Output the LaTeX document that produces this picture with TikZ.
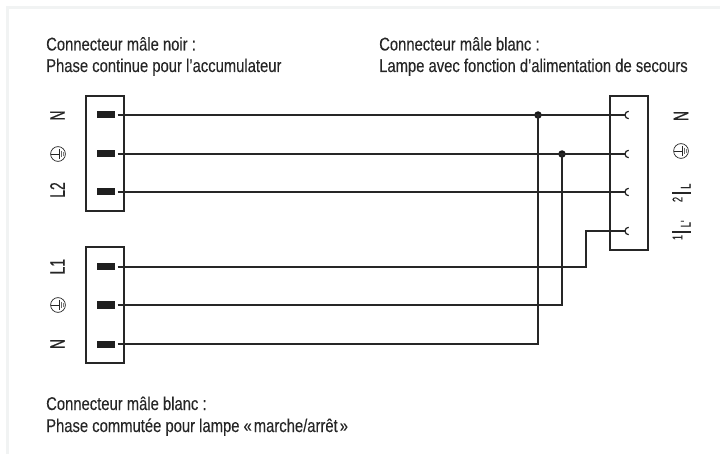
\documentclass[tikz,border=0pt]{standalone}
\usepackage{fontspec}
\setmainfont[FakeStretch=0.8,FakeBold=0.15]{Liberation Sans}
\newfontfamily\pinfont[FakeStretch=0.66,FakeBold=0.4]{Liberation Sans}
\definecolor{inkdark}{HTML}{262626}
\definecolor{framegray}{HTML}{F1F3F3}
\tikzset{
  wire/.style={line width=1.25pt,inkdark},
  housing/.style={draw=inkdark,line width=1.25pt,minimum width=38,minimum height=115,inner sep=0},
  blade/.style={fill=black!88,minimum width=18.5,minimum height=7,inner sep=0,outer sep=2.3},
  caption/.style={anchor=base west,inner sep=0,inkdark,font=\fontsize{18.5}{18.5}\selectfont},
  pinlabel/.style={rotate=90,inkdark,inner sep=0,font=\pinfont\fontsize{21}{21}\selectfont},
  pinsmall/.style={rotate=90,inkdark,inner sep=0,font=\pinfont\fontsize{14}{14}\selectfont},
  joint/.style={circle,fill=black!90,minimum size=7.5,inner sep=0},
  pics/earthsym/.style={code={
    \draw[inkdark,line width=.7pt] (0,0) circle[radius=7.4];
    \draw[inkdark,line width=.8pt] (-7.4,0) -- (1.6,0);
    \draw[inkdark,line width=.9pt] (1.6,-5) -- (1.6,5);
    \draw[inkdark!70,line width=.8pt] (3.4,-3.4) -- (3.4,3.4);
    \draw[inkdark!60,line width=.8pt] (5.2,-1.8) -- (5.2,1.8);
  }}
}
\begin{document}
\begin{tikzpicture}[x=1pt,y=-1pt]
  \useasboundingbox (0,0) rectangle (720,454);
  \draw[framegray,line width=3pt] (7,454) -- (7,7.5) -- (720,7.5);
  % captions
  \node[caption] (capa) at (46,50.5) {Connecteur mâle noir :};
  \node[caption] (capb) at (46,72) {Phase continue pour l'accumulateur};
  \node[caption] (capc) at (379,50.5) {Connecteur mâle blanc :};
  \node[caption] (capd) at (379,72) {Lampe avec fonction d'alimentation de secours};
  \node[caption] (cape) at (46,410) {Connecteur mâle blanc :};
  \node[caption] (capf) at (46,432) {Phase commutée pour lampe «\hspace{2pt}marche/arrêt\hspace{2pt}»};
  % housings
  \node[housing] (plugA) at (105,153.5) {};
  \node[housing,minimum height=116] (plugB) at (105,305) {};
  \node[housing,minimum height=154] (lamp) at (629,173) {};
  % blades
  \node[blade] (a1) at (106,115) {};
  \node[blade] (a2) at (106,154) {};
  \node[blade] (a3) at (106,192) {};
  \node[blade] (b1) at (106,267) {};
  \node[blade] (b2) at (106,305) {};
  \node[blade] (b3) at (106,344) {};
  % sockets
  \coordinate (s1) at (625,115);
  \coordinate (s2) at (625,154);
  \coordinate (s3) at (625,192);
  \coordinate (s4) at (625,231);
  \foreach \s in {s1,s2,s3,s4}
    \draw[wire] ([shift={(3.7,3.7)}]\s) arc[start angle=90,end angle=270,radius=3.7];
  % junctions
  \node[joint] (j1) at (538,115) {};
  \node[joint] (j2) at (562,154) {};
  \coordinate (k) at (586,267);
  % wiring
  \draw[wire] (a1.east) -- (s1);
  \draw[wire] (a2.east) -- (s2);
  \draw[wire] (a3.east) -- (s3);
  \draw[wire] (b1.east) -- (k) |- (s4);
  \draw[wire] (b2.east) -| (j2.center);
  \draw[wire] (b3.east) -| (j1.center);
  % left labels
  \node[pinlabel] (la) at (57.5,115.5) {N};
  \pic at (58,154) {earthsym};
  \node[pinlabel] (lb) at (57.5,190) {L2};
  \node[pinlabel] (lc) at (57.5,266.7) {L1};
  \pic at (58,305) {earthsym};
  \node[pinlabel] (ld) at (57.5,344) {N};
  % right labels
  \node[pinlabel] (ra) at (681,116) {N};
  \pic at (681,151) {earthsym};
  \node[pinsmall] (rb) at (677.5,199.5) {2};
  \draw[wire] (672,193) -- (691,193);
  \node[pinsmall,anchor=base west] (rbl) at (690.5,189) {L};
  \node[pinsmall] (rc) at (677.5,237.5) {1};
  \draw[wire] (672,232) -- (691,232);
  \node[pinsmall,anchor=base west] (rcl) at (690.5,227.5) {L'};
\end{tikzpicture}
\end{document}
